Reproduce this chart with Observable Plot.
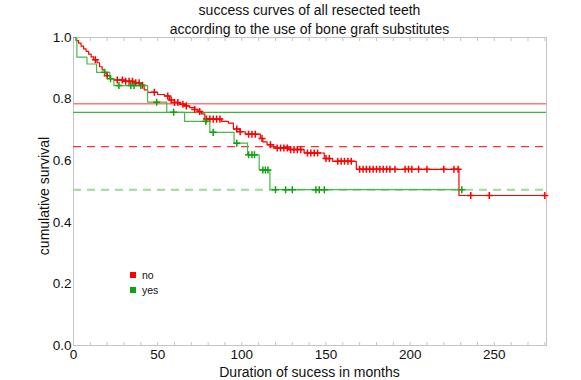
<!DOCTYPE html>
<html>
<head>
<meta charset="utf-8">
<script src="https://cdn.jsdelivr.net/npm/d3@7"></script>
<script src="https://cdn.jsdelivr.net/npm/@observablehq/plot@0.6"></script>
<style>
  html, body { margin: 0; padding: 0; background: #fff; }
  #wrap { position: relative; width: 581px; height: 380px; font-family: "Liberation Sans", Arial, sans-serif; color: #111; }
  #wrap svg { position: absolute; left: 0; top: 0; }
  .title { position: absolute; left: 0; width: 619px; text-align: center; font-size: 14px; line-height: 19px; top: 1px; }
  .xlab { position: absolute; left: 0; width: 619px; text-align: center; font-size: 14px; line-height: 14px; top: 365px; }
  .ylab { position: absolute; left: 44px; top: 196px; font-size: 14px; white-space: nowrap; transform: translate(-50%, -50%) rotate(-90deg); }
  .leg { position: absolute; left: 130px; font-size: 10.5px; line-height: 12px; }
  .leg span.sw { display: inline-block; width: 6px; height: 6px; margin-right: 6px; vertical-align: 1px; }
</style>
</head>
<body>
<div id="wrap"></div>
<script>
// ---- Data ----
const groups = ["no", "yes"];
const groupColors = ["#ff0000", "#10a010"];

// "no" (no bone graft substitute): step times (months) and survival after each step
const noTime = [0, 1.5, 3, 4.5, 6, 7.5, 9, 10.5, 12, 14, 15.5, 17, 18.5, 20, 22, 24, 31, 36, 40, 42, 44, 50, 54, 57, 60, 63, 66, 69, 72, 74, 76, 78, 88, 92, 95, 99, 102, 111, 112.5, 115, 119, 128, 137, 149, 154, 168, 229, 281];
const noSurv = [1.0, 0.99, 0.982, 0.972, 0.963, 0.955, 0.946, 0.937, 0.928, 0.918, 0.905, 0.895, 0.885, 0.876, 0.866, 0.862, 0.858, 0.853, 0.845, 0.83, 0.822, 0.815, 0.81, 0.797, 0.789, 0.783, 0.778, 0.772, 0.766, 0.76, 0.752, 0.735, 0.728, 0.722, 0.703, 0.694, 0.686, 0.672, 0.661, 0.652, 0.641, 0.636, 0.625, 0.607, 0.598, 0.572, 0.487, 0.487];
// censored observations ("+") of group "no"
const noCensor = [13, 20, 26, 29, 31, 33, 35, 37, 39, 41, 48, 56, 58, 60, 62, 65, 67, 72, 75, 79, 81, 83, 85, 87, 97, 99, 104, 106, 108, 112, 117, 121, 123, 125, 127, 129, 131, 133, 135, 139, 141, 143, 145, 150, 152, 157, 159, 161, 163, 165, 170, 172, 174, 176, 178, 180, 182, 184, 186, 188, 191, 197, 199, 201, 205, 210, 220, 226, 228.5, 236, 247, 280];

// "yes" (bone graft substitute used)
const yesTime = [0, 2, 8, 13.7, 21.6, 24, 44, 55.4, 66, 81, 95.4, 103.4, 110.3, 116.7, 230.7];
const yesSurv = [1.0, 0.936, 0.914, 0.887, 0.866, 0.844, 0.79, 0.757, 0.728, 0.692, 0.657, 0.619, 0.57, 0.506, 0.506];
const yesCensor = [18.5, 22, 27, 34, 36, 40, 49.4, 59.5, 78.6, 83, 97, 104, 106, 107.5, 112.5, 114, 115.5, 120, 126, 130, 144, 146, 149, 230.7];

// horizontal reference levels
const refSolid = [0.785, 0.757];   // no, yes
const refDashed = [0.646, 0.506];  // no, yes

const xTicks = [0, 50, 100, 150, 200, 250];
const yTicks = [0, 0.2, 0.4, 0.6, 0.8, 1.0];
const xMinor = d3.range(0, 281, 10);

const titleLines = ["success curves of all resected teeth", "according to the use of bone graft substitutes"];
const xLabel = "Duration of sucess in months";
const yLabel = "cumulative survival";

// ---- Build tables ----
const noCurve = noTime.map((t, i) => ({t, s: noSurv[i]}));
const yesCurve = yesTime.map((t, i) => ({t, s: yesSurv[i]}));
function survAt(times, surv, t) {
  let s = surv[0];
  for (let i = 0; i < times.length; i++) if (times[i] <= t) s = surv[i];
  return s;
}
const noMarks = noCensor.map(t => ({t, s: survAt(noTime, noSurv, t)}));
const yesMarks = yesCensor.map(t => ({t, s: survAt(yesTime, yesSurv, t)}));

const chart = Plot.plot({
  width: 581,
  height: 380,
  marginLeft: 73,
  marginRight: 35,
  marginTop: 37,
  marginBottom: 35,
  style: {fontFamily: "'Liberation Sans', Arial, sans-serif", fontSize: "13px", color: "#111", background: "transparent"},
  x: {domain: [0, 281]},
  y: {domain: [0, 1]},
  marks: [
    Plot.frame({stroke: "#c4c4c4"}),
    Plot.axisX({anchor: "top", ticks: xMinor, tickSize: -3, tickFormat: () => "", stroke: "#c4c4c4", label: null}),
    Plot.axisX({anchor: "bottom", ticks: xMinor, tickSize: -3, tickFormat: () => "", stroke: "#c4c4c4", label: null}),
    Plot.axisX({anchor: "bottom", ticks: xTicks, tickSize: 0, tickPadding: 4, label: null, fontSize: 13.5}),
    Plot.axisY({anchor: "left", ticks: yTicks, tickSize: 0, tickPadding: 2, tickFormat: d3.format(".1f"), label: null, fontSize: 13.5}),
    Plot.ruleY([refSolid[0]], {stroke: "#ff7a7a", strokeWidth: 1.6}),
    Plot.ruleY([refSolid[1]], {stroke: "#33bb33", strokeWidth: 1.2}),
    Plot.ruleY([refDashed[0]], {stroke: "#ff3030", strokeWidth: 1.2, strokeDasharray: "8,6"}),
    Plot.ruleY([refDashed[1]], {stroke: "#99dd99", strokeWidth: 2, strokeDasharray: "8,6"}),
    Plot.line(noCurve, {x: "t", y: "s", curve: "step-after", stroke: groupColors[0], strokeWidth: 1.2}),
    Plot.dot(noMarks, {x: "t", y: "s", symbol: "plus", r: 2.4, stroke: groupColors[0], strokeWidth: 1.5}),
    Plot.line(yesCurve, {x: "t", y: "s", curve: "step-after", stroke: "#44bb44", strokeWidth: 1.2}),
    Plot.dot(yesMarks, {x: "t", y: "s", symbol: "plus", r: 2.4, stroke: groupColors[1], strokeWidth: 1.5})
  ]
});

const wrap = document.getElementById("wrap");
wrap.appendChild(chart);

const title = document.createElement("div");
title.className = "title";
title.innerHTML = titleLines.join("<br>");
wrap.appendChild(title);

const xl = document.createElement("div");
xl.className = "xlab"; xl.textContent = xLabel; wrap.appendChild(xl);
const yl = document.createElement("div");
yl.className = "ylab"; yl.textContent = yLabel; wrap.appendChild(yl);

groups.forEach((g, i) => {
  const d = document.createElement("div");
  d.className = "leg";
  d.style.top = (269 + i * 15) + "px";
  d.innerHTML = `<span class="sw" style="background:${groupColors[i]}"></span>${g}`;
  wrap.appendChild(d);
});
</script>
</body>
</html>
